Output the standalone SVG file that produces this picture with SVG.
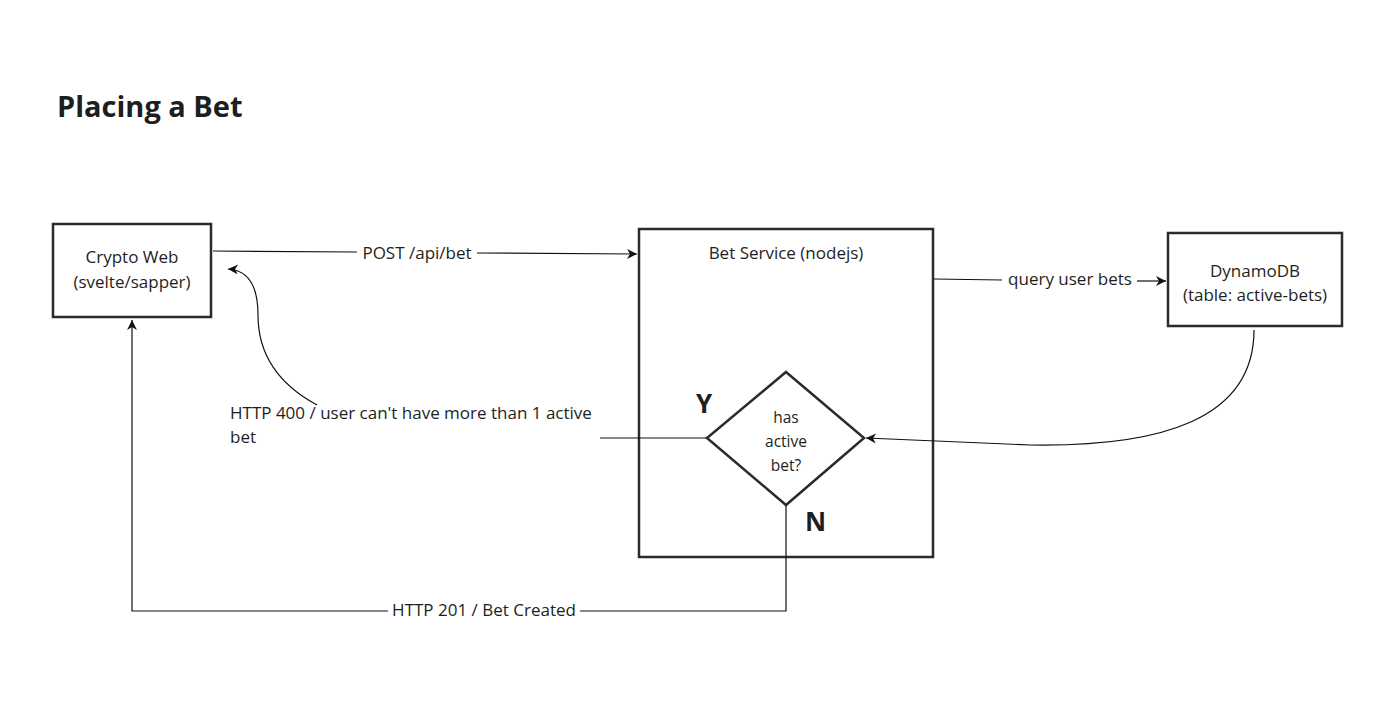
<svg xmlns="http://www.w3.org/2000/svg" width="1388" height="720" viewBox="0 0 1388 720">
<defs>
<style>
.box{fill:#fff;stroke:#2b2b2b;stroke-width:2.5}
.t{font-family:"Open Sans","Liberation Sans",sans-serif;font-size:17px;fill:#1e1e1e;text-anchor:middle}
.d{font-family:"Open Sans","Liberation Sans",sans-serif;font-size:15.5px;fill:#1e1e1e;text-anchor:middle}
.lbl{font-family:"Open Sans","Liberation Sans",sans-serif;font-size:17px;fill:#1e1e1e}
.b{font-family:"Open Sans","Liberation Sans",sans-serif;font-weight:bold;fill:#1e1e1e}
.c{fill:none;stroke:#111;stroke-width:1.2}
</style>
<marker id="ah" viewBox="0 0 10 10" refX="10" refY="5" markerWidth="20" markerHeight="10" markerUnits="userSpaceOnUse" orient="auto">
<path d="M0,0 L10,5 L0,10 L3,5 Z" fill="#111"/>
</marker>
</defs>
<rect width="1388" height="720" fill="#fff"/>
<text class="b" x="57" y="117" font-size="29">Placing a Bet</text>

<g id="crypto-web">
<rect class="box" x="53" y="224" width="158" height="93"/>
<text class="t" x="132" y="263">Crypto Web</text>
<text class="t" x="132" y="288">(svelte/sapper)</text>
</g>
<g id="bet-service">
<rect class="box" x="639" y="229" width="294" height="328"/>
<text class="t" x="786" y="259">Bet Service (nodejs)</text>
</g>
<g id="dynamodb">
<rect class="box" x="1168" y="233" width="174" height="93"/>
<text class="t" x="1255" y="277">DynamoDB</text>
<text class="t" x="1255" y="301">(table: active-bets)</text>
</g>
<g id="decision">
<polygon class="box" points="786,372 864,438 786,505 707,438"/>
<text class="d" x="786" y="423">has</text>
<text class="d" x="786" y="447">active</text>
<text class="d" x="786" y="471">bet?</text>
<text class="b" x="696" y="413" font-size="26">Y</text>
<text class="b" x="805" y="531" font-size="26">N</text>
</g>

<g id="connectors">
<path class="c" d="M213,251 L357,252"/>
<path class="c" d="M477,253 L637,254" marker-end="url(#ah)"/>
<text class="lbl" x="417" y="259" text-anchor="middle">POST /api/bet</text>

<path class="c" d="M934,279 L1002,280"/>
<path class="c" d="M1137,281 L1166,281" marker-end="url(#ah)"/>
<text class="lbl" x="1070" y="285" text-anchor="middle">query user bets</text>

<path class="c" d="M1254,330 C1254,420 1160,447 1030,445 L866,438" marker-end="url(#ah)"/>

<path class="c" d="M707,438 L600,438"/>
<path class="c" d="M317,405 C280,385 258,355 258,315 C258,285 248,270 228,269" marker-end="url(#ah)"/>
<text class="lbl" x="230" y="419">HTTP 400 / user can't have more than 1 active</text>
<text class="lbl" x="230" y="443">bet</text>

<path class="c" d="M786,505 L786,611 L580,611"/>
<path class="c" d="M388,611 L132,611 L132,320" marker-end="url(#ah)"/>
<text class="lbl" x="484" y="616" text-anchor="middle">HTTP 201 / Bet Created</text>
</g>
</svg>
